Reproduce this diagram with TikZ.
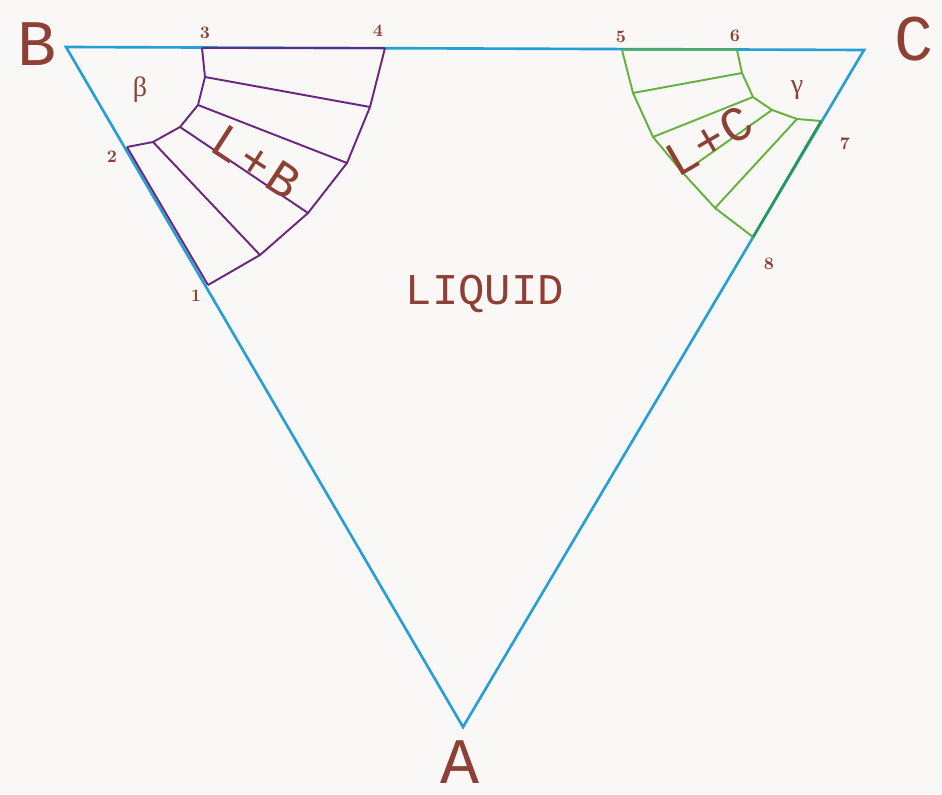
\documentclass[tikz,border=0pt]{standalone}
\usepackage{fontspec}
\usepackage{tikz}
\usetikzlibrary{positioning}
\newfontfamily\plotfont{Liberation Mono}
\newfontfamily\greekfont{Liberation Serif}
\definecolor{EdgeBlue}{RGB}{38,158,214}
\definecolor{PhasePurple}{RGB}{108,38,128}
\definecolor{PhaseGreen}{RGB}{100,178,60}
\definecolor{TieGreen}{RGB}{40,150,75}
\definecolor{LabelBrown}{RGB}{142,64,52}
\definecolor{Paper}{RGB}{250,248,246}

\begin{document}
\begin{tikzpicture}[
    x=0.02cm, y=-0.02cm,
    side/.style={draw=EdgeBlue, line width=1.5pt, line join=miter},
    regb/.style={draw=PhasePurple, line width=1.1pt, line join=round},
    regc/.style={draw=PhaseGreen, line width=1.1pt, line join=round},
    corner/.style={text=LabelBrown, font=\plotfont\fontsize{37}{37}\selectfont},
    field/.style={text=LabelBrown, font=\plotfont\fontsize{25}{25}\selectfont},
    tilt/.style={text=LabelBrown, font=\plotfont\fontsize{28}{28}\selectfont},
    pnum/.style={text=LabelBrown, font=\fontsize{10}{10}\selectfont\bfseries},
    phase/.style={text=LabelBrown, font=\greekfont\fontsize{16}{16}\selectfont}
]
    \fill[Paper] (0,0) rectangle (942,794);
    \useasboundingbox (0,0) rectangle (942,794);

    % corners of the triangle
    \coordinate (B) at (66,47);
    \coordinate (C) at (864,50);
    \coordinate (A) at (463,727);
    \draw[side] (B) -- (C) -- (A) -- cycle;

    % L+B field
    \coordinate (p1) at (208,285);
    \coordinate (p2) at (127,147);
    \coordinate (p3) at (202,48);
    \coordinate (p4) at (385,48);
    \draw[regb] (p3) -- (205,77) coordinate (b1) -- (198,105) coordinate (b2)
        -- (180,127) coordinate (b3) -- (153,142) coordinate (b4) -- (p2);
    \draw[regb] (p4) -- (370,107) coordinate (b5) -- (347,163) coordinate (b6)
        -- (308,213) coordinate (b7) -- (260,255) coordinate (b8) -- (p1);
    \draw[regb] (p3) -- (p4);
    \draw[regb] (p2) -- (p1);
    \foreach \i/\j in {b1/b5, b2/b6, b3/b7, b4/b8}
        \draw[regb] (\i) -- (\j);

    % L+C field
    \coordinate (p5) at (622,50);
    \coordinate (p6) at (737,50);
    \coordinate (p7) at (821,121);
    \coordinate (p8) at (753,237);
    \draw[regc] (p5) -- (633,93) coordinate (c1) -- (653,137) coordinate (c2)
        -- (683,173) coordinate (c3) -- (715,208) coordinate (c4) -- (p8);
    \draw[regc] (p6) -- (742,73) coordinate (c5) -- (753,97) coordinate (c6)
        -- (772,110) coordinate (c7) -- (797,119) coordinate (c8) -- (p7);
    \draw[regc] (p5) -- (p6);
    \draw[TieGreen, line width=1.3pt] (p7) -- (p8);
    \foreach \i/\j in {c1/c5, c2/c6, c3/c7, c4/c8}
        \draw[regc] (\i) -- (\j);

    % labels
    \node[corner] (labB) at (37,44) {B};
    \node[corner] (labC) at (914,39) {C};
    \node[corner, inner sep=0pt] (labA) at (460,762) {A};
    \node[field] (liq) at (485,294) {LIQUID};
    \node[tilt, rotate=-33, inner sep=0pt] (lpb) at (256,162) {L\hspace{2pt}+\hspace{2pt}B};
    \node[tilt, rotate=30, inner sep=0pt] (lpc) at (709,141) {L\hspace{1pt}+\hspace{1pt}C};
    \node[phase] (beta) at (140,90) {β};
    \node[phase] (gam) at (797,90) {γ};
    \node[pnum] (n1) at (196,296) {1};
    \node[pnum] (n2) at (112,157) {2};
    \node[pnum] (n3) at (205,33) {3};
    \node[pnum] (n4) at (378,31) {4};
    \node[pnum] (n5) at (621,37) {5};
    \node[pnum] (n6) at (735,36) {6};
    \node[pnum] (n7) at (845,144) {7};
    \node[pnum] (n8) at (769,264) {8};
\end{tikzpicture}
\end{document}
